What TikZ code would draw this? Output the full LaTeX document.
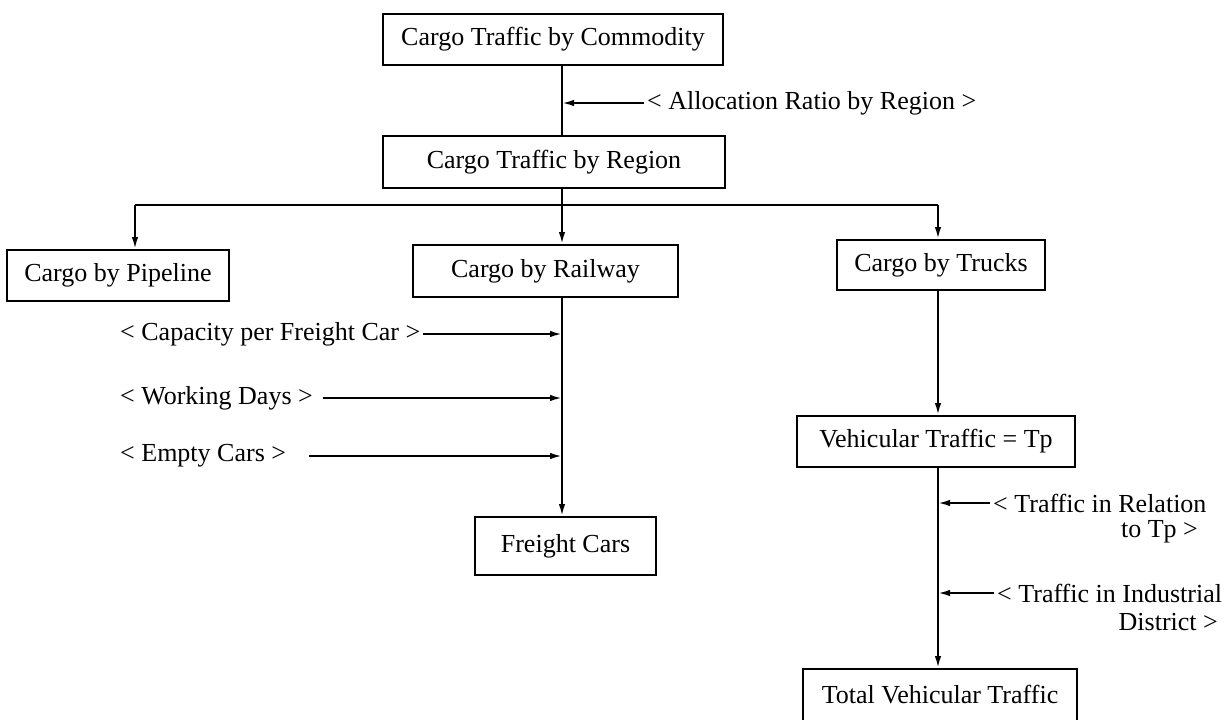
\documentclass[tikz,border=0pt]{standalone}
\usepackage{fontspec}
\setmainfont{Liberation Serif}
\usetikzlibrary{arrows.meta}
\begin{document}
\begin{tikzpicture}[x=1pt,y=-1pt,
  box/.style={draw, line width=2pt, inner sep=0pt, align=center, font=\fontsize{26}{30}\selectfont},
  lbl/.style={inner sep=3pt, font=\fontsize{26}{30}\selectfont},
  conn/.style={line width=2pt},
  arr/.style={conn, -{Latex[length=12pt,width=6.5pt]}}]
\fill[white] (0,0) rectangle (1232,720);
\useasboundingbox (0,0) rectangle (1232,720);
% columns
\coordinate (cx) at (562,0);
\coordinate (tx) at (938,0);
\coordinate (jl) at (135,205);
\coordinate (jr) at (938,205);
% boxes
\node[box, minimum width=340pt, minimum height=51pt] (commod) at (553,39.5) {Cargo Traffic by Commodity};
\node[box, minimum width=342pt, minimum height=52pt] (region) at (554,162) {Cargo Traffic by Region};
\node[box, minimum width=222pt, minimum height=51pt] (pipe) at (118,275.5) {Cargo by Pipeline};
\node[box, minimum width=265pt, minimum height=52pt] (rail) at (545.5,271) {Cargo by Railway};
\node[box, minimum width=208pt, minimum height=50pt] (trucks) at (941,265) {Cargo by Trucks};
\node[box, minimum width=181pt, minimum height=58pt] (freight) at (565.5,546) {Freight Cars};
\node[box, minimum width=278pt, minimum height=51pt] (veh) at (936,441.5) {Vehicular Traffic = Tp};
\node[box, minimum width=274pt, minimum height=52pt] (total) at (940,695) {Total Vehicular Traffic};
% labels
\node[lbl, anchor=west] (alloc) at (644,103) {< Allocation Ratio by Region >};
\node[lbl, anchor=west] (cap) at (117,334) {< Capacity per Freight Car >};
\node[lbl, anchor=west] (wd) at (117,398) {< Working Days >};
\node[lbl, anchor=west] (ec) at (117,456) {< Empty Cars >};
\node[lbl, anchor=west] (rel1) at (990,503) {< Traffic in Relation};
\node[lbl, anchor=east] (rel2) at (1201,532) {to Tp >};
\node[lbl, anchor=west] (ind1) at (994,593) {< Traffic in Industrial};
\node[lbl, anchor=east] (ind2) at (1221,622) {District >};
% connectors
\draw[conn] (commod.south -| cx) -- (region.north -| cx);
\draw[arr] (alloc.west) -- (alloc.west -| cx);
\draw[arr] (region.south -| cx) -- (rail.north -| cx);
\draw[conn] (jl) -- (jr);
\draw[arr] (jl) -- (pipe.north -| jl);
\draw[arr] (jr) -- (trucks.north -| jr);
\draw[arr] (rail.south -| cx) -- (freight.north -| cx);
\draw[arr] (cap.east) -- (cap.east -| cx);
\draw[arr] ([xshift=7pt]wd.east) -- (wd.east -| cx);
\draw[arr] ([xshift=20pt]ec.east) -- (ec.east -| cx);
\draw[arr] (trucks.south -| tx) -- (veh.north -| tx);
\draw[arr] (veh.south -| tx) -- (total.north -| tx);
\draw[arr] (rel1.west) -- (rel1.west -| tx);
\draw[arr] (ind1.west) -- (ind1.west -| tx);
\end{tikzpicture}
\end{document}
